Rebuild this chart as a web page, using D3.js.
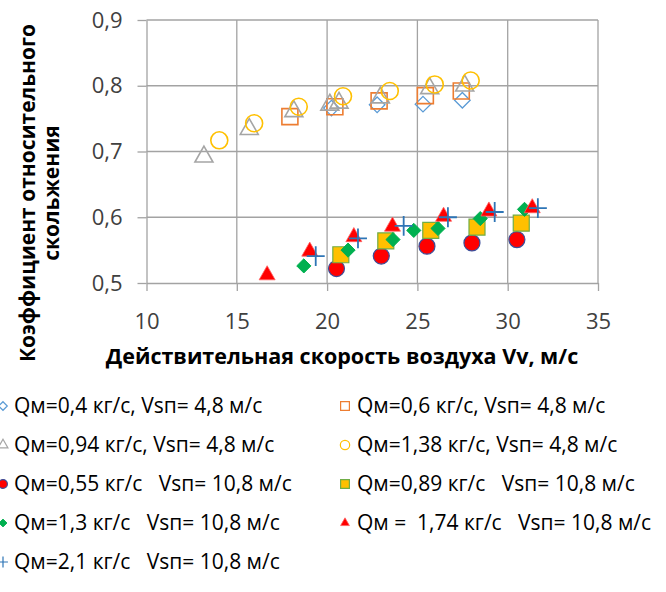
<!DOCTYPE html>
<html>
<head>
<meta charset="utf-8">
<script src="https://cdn.jsdelivr.net/npm/d3@7"></script>
<style>
  body { margin: 0; background: #fff; }
  svg { display: block; font-family: "Open Sans", "Noto Sans", sans-serif; }
  text { white-space: pre; }
</style>
</head>
<body>
<div id="chart"></div>
<script>
// tick values
var xTicks = [10, 15, 20, 25, 30, 35];
var yTicks = [0.5, 0.6, 0.7, 0.8, 0.9];

// series (x = Vv, y = coefficient)
var q040x = [20.24, 22.77, 25.31, 27.49];
var q040y = [0.766, 0.771, 0.772, 0.778];
var q060x = [17.94, 20.43, 22.88, 25.44, 27.43];
var q060y = [0.753, 0.768, 0.777, 0.785, 0.792];
var q094x = [13.18, 15.69, 18.16, 20.15, 20.66, 22.95, 25.68, 27.62];
var q094y = [0.692, 0.734, 0.761, 0.771, 0.774, 0.782, 0.796, 0.800];
var q138x = [14.03, 15.96, 18.43, 20.88, 23.47, 25.96, 27.95];
var q138y = [0.717, 0.743, 0.768, 0.784, 0.792, 0.802, 0.808];
var q055x = [20.52, 23.00, 25.53, 28.02, 30.51];
var q055y = [0.522, 0.541, 0.556, 0.561, 0.566];
var q089x = [20.76, 23.25, 25.74, 28.30, 30.75];
var q089y = [0.543, 0.564, 0.580, 0.585, 0.591];
var q130x = [18.71, 21.16, 23.65, 24.80, 26.14, 28.48, 30.93];
var q130y = [0.526, 0.550, 0.566, 0.580, 0.583, 0.598, 0.612];
var q174x = [16.68, 19.04, 21.48, 23.62, 26.45, 28.96, 31.36];
var q174y = [0.512, 0.548, 0.570, 0.586, 0.601, 0.609, 0.614];
var q210x = [19.37, 21.71, 24.24, 26.69, 29.28, 31.67];
var q210y = [0.541, 0.568, 0.587, 0.600, 0.608, 0.614];

var labels = [
  "Qм=0,4 кг/с, Vsп= 4,8 м/с",
  "Qм=0,6 кг/с, Vsп= 4,8 м/с",
  "Qм=0,94 кг/с, Vsп= 4,8 м/с",
  "Qм=1,38 кг/с, Vsп= 4,8 м/с",
  "Qм=0,55 кг/с   Vsп= 10,8 м/с",
  "Qм=0,89 кг/с   Vsп= 10,8 м/с",
  "Qм=1,3 кг/с   Vsп= 10,8 м/с",
  "Qм =  1,74 кг/с   Vsп= 10,8 м/с",
  "Qм=2,1 кг/с   Vsп= 10,8 м/с"
];

var xTitle = "Действительная скорость воздуха Vv, м/с";
var yTitle = ["Коэффициент относительного", "скольжения"];

// marker styles per series
var series = [
  {xs: q040x, ys: q040y, shape: "diamond", size: 11, fill: "none", stroke: "#5B9BD5", sw: 1.3},
  {xs: q060x, ys: q060y, shape: "square", size: 16, fill: "none", stroke: "#ED7D31", sw: 1.6},
  {xs: q094x, ys: q094y, shape: "triangle", size: 18, fill: "none", stroke: "#A5A5A5", sw: 1.6},
  {xs: q138x, ys: q138y, shape: "circle", size: 17, fill: "none", stroke: "#FFC000", sw: 1.6},
  {xs: q055x, ys: q055y, shape: "circle", size: 16, fill: "#FF0000", stroke: "#3B4E9A", sw: 1.2},
  {xs: q089x, ys: q089y, shape: "square", size: 16, fill: "#FFC000", stroke: "#70AD47", sw: 1.2},
  {xs: q130x, ys: q130y, shape: "diamond", size: 10, fill: "#00B050", stroke: "#00B050", sw: 1},
  {xs: q174x, ys: q174y, shape: "triangle", size: 16, fill: "#FF0000", stroke: "#FF6060", sw: 0.8},
  {xs: q210x, ys: q210y, shape: "plus", size: 18, fill: "none", stroke: "#2E75B6", sw: 1.8}
];
series.forEach(function(s, i){ s.label = labels[i]; });

var W = 666, H = 592;
var svg = d3.select("#chart").append("svg").attr("width", W).attr("height", H);

var x = d3.scaleLinear().domain([10, 35]).range([146.5, 598]);
var y = d3.scaleLinear().domain([0.5, 0.9]).range([283, 20]);

var grid = "#A3A3A3";

// gridlines
svg.append("g").selectAll("line.h").data(yTicks.slice(1)).enter().append("line")
  .attr("x1", x(10)).attr("x2", x(35))
  .attr("y1", function(d){ return y(d); }).attr("y2", function(d){ return y(d); })
  .attr("stroke", grid).attr("stroke-width", 1.3);
svg.append("g").selectAll("line.v").data(xTicks.slice(1)).enter().append("line")
  .attr("y1", y(0.5)).attr("y2", y(0.9))
  .attr("x1", function(d){ return x(d); }).attr("x2", function(d){ return x(d); })
  .attr("stroke", grid).attr("stroke-width", 1.3);

// axes
var fmt = function(d){ return d3.format(".1f")(d).replace(".", ","); };
var gx = svg.append("g").attr("transform", "translate(0," + y(0.5) + ")")
  .call(d3.axisBottom(x).tickValues(xTicks).tickSize(8).tickPadding(22).tickSizeOuter(0));
var gy = svg.append("g").attr("transform", "translate(" + x(10) + ",0)")
  .call(d3.axisLeft(y).tickValues(yTicks).tickFormat(fmt).tickSize(9).tickPadding(15).tickSizeOuter(0));
[gx, gy].forEach(function(g){
  g.select(".domain").attr("stroke", grid).attr("stroke-width", 1.3);
  g.selectAll(".tick line").attr("stroke", grid).attr("stroke-width", 1.3);
  g.selectAll(".tick text").attr("fill", "#404040")
    .style("font-family", "'Open Sans', sans-serif").style("font-size", "22px");
});

// marker path builder
function markerPath(shape, s) {
  var h = s / 2;
  if (shape === "circle") return d3.symbol(d3.symbolCircle, Math.PI * h * h)();
  if (shape === "square") return "M" + (-h) + "," + (-h) + "h" + s + "v" + s + "h" + (-s) + "Z";
  if (shape === "diamond") { var r = h * Math.SQRT2; return "M0," + (-r) + "L" + r + ",0L0," + r + "L" + (-r) + ",0Z"; }
  if (shape === "triangle") { var th = s * 0.88; return "M0," + (-th * 2 / 3) + "L" + h + "," + (th / 3) + "L" + (-h) + "," + (th / 3) + "Z"; }
  if (shape === "plus") return "M" + (-h) + ",0H" + h + "M0," + (-h * 1.1) + "V" + (h * 1.1);
  return "";
}

// marks
series.forEach(function(s){
  svg.append("g").selectAll("path").data(d3.range(s.xs.length)).enter().append("path")
    .attr("transform", function(i){ return "translate(" + x(s.xs[i]) + "," + y(s.ys[i]) + ")"; })
    .attr("d", markerPath(s.shape, s.size))
    .attr("fill", s.fill).attr("stroke", s.stroke).attr("stroke-width", s.sw);
});

// axis titles
svg.append("text").attr("x", 342).attr("y", 364).attr("text-anchor", "middle")
  .style("font-family", "'Open Sans', sans-serif").style("font-weight", "bold").style("font-size", "21.5px")
  .attr("fill", "#000").text(xTitle);
var yt = svg.append("g").attr("transform", "translate(0,193) rotate(-90)");
yt.append("text").attr("x", 0).attr("y", 35).attr("text-anchor", "middle")
  .style("font-family", "'Open Sans', sans-serif").style("font-weight", "bold").style("font-size", "21px")
  .text(yTitle[0]);
yt.append("text").attr("x", 0).attr("y", 59).attr("text-anchor", "middle")
  .style("font-family", "'Open Sans', sans-serif").style("font-weight", "bold").style("font-size", "21px")
  .text(yTitle[1]);

// legend
var leg = svg.append("g");
series.forEach(function(s, i){
  var col = i % 2, row = Math.floor(i / 2);
  var mx = col === 0 ? 3 : 345, ty = 406 + row * 39;
  leg.append("path").attr("transform", "translate(" + mx + "," + ty + ")")
    .attr("d", markerPath(s.shape, s.size * 0.55))
    .attr("fill", s.fill).attr("stroke", s.stroke).attr("stroke-width", Math.min(s.sw, 1.2));
  leg.append("text").attr("x", mx + (col === 0 ? 11 : 12)).attr("y", ty).attr("dy", "0.35em")
    .style("font-family", "'Open Sans', sans-serif").style("font-size", "21px")
    .attr("fill", "#000").text(s.label);
});
</script>
</body>
</html>
